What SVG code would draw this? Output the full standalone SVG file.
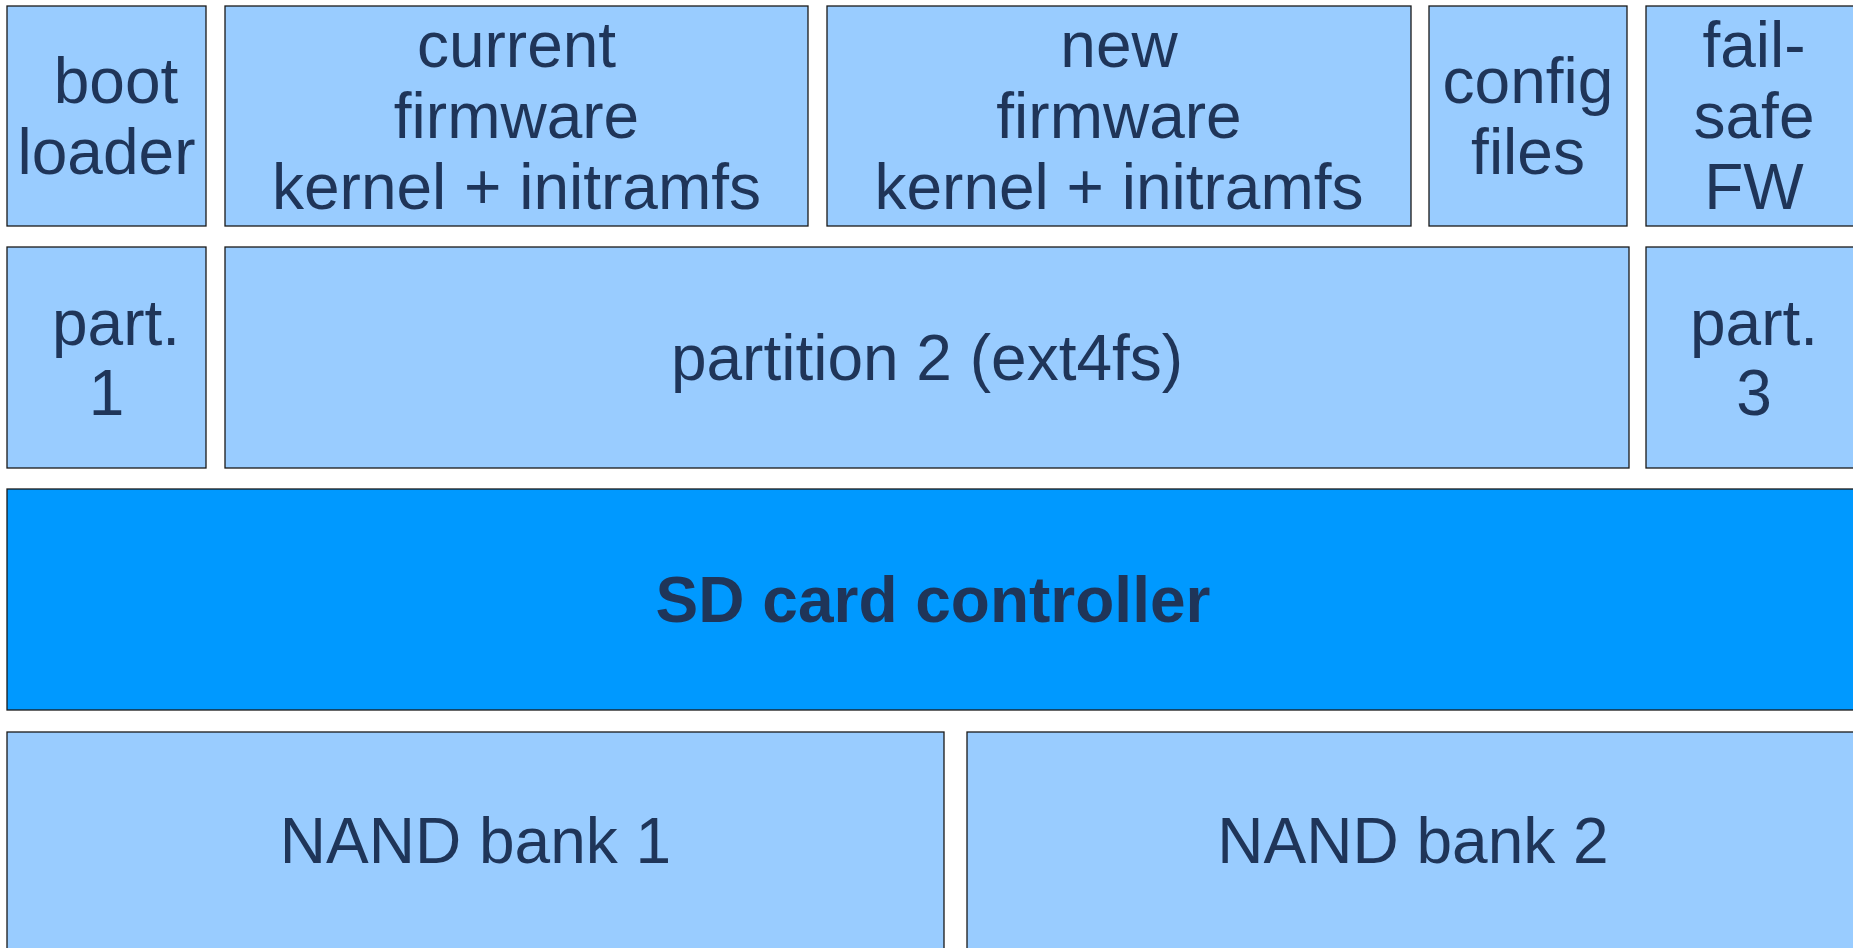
<svg xmlns="http://www.w3.org/2000/svg" width="1853" height="948" viewBox="0 0 1853 948">
  <style>
    .blk { fill: #99ccff; stroke: #1a1a1a; stroke-width: 1.3; }
    .ctl { fill: #0099ff; stroke: #1a1a1a; stroke-width: 1.3; }
    .lbl { font-family: "Liberation Sans", Arial, sans-serif; font-size: 64px; fill: #1f3559; text-anchor: middle; }
    .bold { font-weight: bold; }
  </style>
  <rect width="1853" height="948" fill="#ffffff"/>

  <!-- row 1: files stored on the card -->
  <g id="bootloader">
    <rect class="blk" x="7" y="6" width="199" height="220"/>
    <text class="lbl" x="116" y="103">boot</text>
    <text class="lbl" x="106.5" y="174">loader</text>
  </g>
  <g id="current-firmware">
    <rect class="blk" x="225" y="6" width="583" height="220"/>
    <text class="lbl" x="516.5" y="67">current</text>
    <text class="lbl" x="516.5" y="138">firmware</text>
    <text class="lbl" x="516.5" y="209">kernel + initramfs</text>
  </g>
  <g id="new-firmware">
    <rect class="blk" x="827" y="6" width="584" height="220"/>
    <text class="lbl" x="1119" y="67">new</text>
    <text class="lbl" x="1119" y="138">firmware</text>
    <text class="lbl" x="1119" y="209">kernel + initramfs</text>
  </g>
  <g id="config-files">
    <rect class="blk" x="1429" y="6" width="198" height="220"/>
    <text class="lbl" x="1528" y="103">config</text>
    <text class="lbl" x="1528" y="174">files</text>
  </g>
  <g id="failsafe-fw">
    <rect class="blk" x="1646" y="6" width="220" height="220"/>
    <text class="lbl" x="1754" y="67">fail-</text>
    <text class="lbl" x="1754" y="138">safe</text>
    <text class="lbl" x="1754" y="209">FW</text>
  </g>

  <!-- row 2: partitions -->
  <g id="partition-1">
    <rect class="blk" x="7" y="247" width="199" height="221"/>
    <text class="lbl" x="116" y="345">part.</text>
    <text class="lbl" x="106.5" y="415">1</text>
  </g>
  <g id="partition-2">
    <rect class="blk" x="225" y="247" width="1404" height="221"/>
    <text class="lbl" x="927" y="380">partition 2 (ext4fs)</text>
  </g>
  <g id="partition-3">
    <rect class="blk" x="1646" y="247" width="220" height="221"/>
    <text class="lbl" x="1754" y="345">part.</text>
    <text class="lbl" x="1754" y="415">3</text>
  </g>

  <!-- row 3: controller -->
  <g id="sd-controller">
    <rect class="ctl" x="7" y="489" width="1859" height="221"/>
    <text class="lbl bold" x="933" y="622">SD card controller</text>
  </g>

  <!-- row 4: flash banks -->
  <g id="nand-bank-1">
    <rect class="blk" x="7" y="732" width="937" height="230"/>
    <text class="lbl" x="475.5" y="863">NAND bank 1</text>
  </g>
  <g id="nand-bank-2">
    <rect class="blk" x="967" y="732" width="899" height="230"/>
    <text class="lbl" x="1413" y="863">NAND bank 2</text>
  </g>

  <g id="connectors"/>
</svg>
